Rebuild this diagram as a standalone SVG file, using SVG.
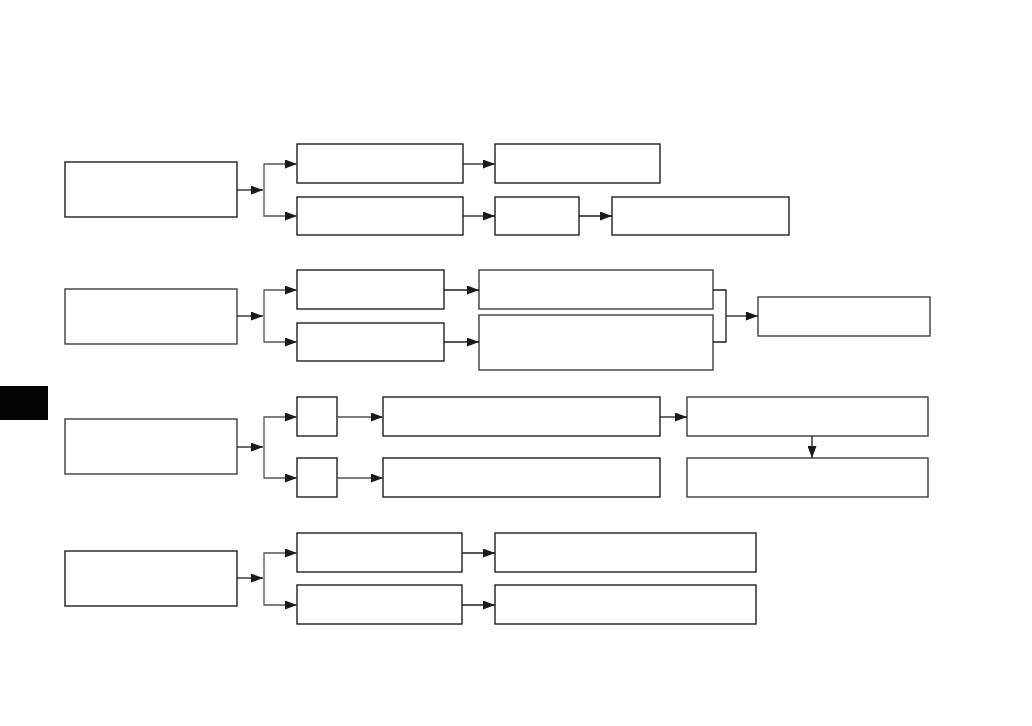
<svg xmlns="http://www.w3.org/2000/svg" width="1032" height="726" viewBox="0 0 1032 726">
<defs>
<marker id="ah" markerUnits="userSpaceOnUse" markerWidth="13" markerHeight="9" refX="12" refY="4.5" orient="auto">
<path d="M0,0 L12,4.5 L0,9 Z" fill="#1a1a1a"/>
</marker>
</defs>
<style>
.n rect{fill:#fff;stroke:#1e1e1e;stroke-width:1.4}
.g rect{stroke:#3e3e3e}
.c path{fill:none;stroke:#1e1e1e;stroke-width:1.3}
.c .br{stroke:#555}
</style>
<rect width="1032" height="726" fill="#fff"/>
<rect x="0" y="386" width="48" height="34" fill="#050505"/>

<g id="a1" class="n"><rect x="65" y="162" width="172" height="55"/></g>
<g id="b1" class="n"><rect x="297" y="144" width="166" height="39"/></g>
<g id="b2" class="n"><rect x="297" y="197" width="166" height="38"/></g>
<g id="c1" class="n"><rect x="495" y="144" width="165" height="39"/></g>
<g id="c2" class="n"><rect x="495" y="197" width="84" height="38"/></g>
<g id="d2" class="n"><rect x="612" y="197" width="177" height="38"/></g>

<g id="a2" class="n g"><rect x="65" y="289" width="172" height="55"/></g>
<g id="b3" class="n"><rect x="297" y="270" width="147" height="39"/></g>
<g id="b4" class="n"><rect x="297" y="323" width="147" height="38"/></g>
<g id="c3" class="n g"><rect x="479" y="270" width="234" height="39"/></g>
<g id="c4" class="n g"><rect x="479" y="315" width="234" height="55"/></g>
<g id="d3" class="n g"><rect x="758" y="297" width="172" height="39"/></g>

<g id="a3" class="n g"><rect x="65" y="419" width="172" height="55"/></g>
<g id="e1" class="n"><rect x="297" y="397" width="40" height="39"/></g>
<g id="e2" class="n"><rect x="297" y="458" width="40" height="39"/></g>
<g id="f1" class="n"><rect x="383" y="397" width="277" height="39"/></g>
<g id="f2" class="n"><rect x="383" y="458" width="277" height="39"/></g>
<g id="g1" class="n g"><rect x="687" y="397" width="241" height="39"/></g>
<g id="g2" class="n g"><rect x="687" y="458" width="241" height="39"/></g>

<g id="a4" class="n"><rect x="65" y="551" width="172" height="55"/></g>
<g id="b5" class="n"><rect x="297" y="533" width="165" height="39"/></g>
<g id="b6" class="n"><rect x="297" y="585" width="165" height="39"/></g>
<g id="c5" class="n"><rect x="495" y="533" width="261" height="39"/></g>
<g id="c6" class="n"><rect x="495" y="585" width="261" height="39"/></g>

<g id="connectors" class="c">
<path d="M237,190 H263" marker-end="url(#ah)"/>
<path class="br" d="M264,190 V164 H297" marker-end="url(#ah)"/>
<path class="br" d="M264,190 V216 H297" marker-end="url(#ah)"/>
<path d="M463,164 H495" marker-end="url(#ah)"/>
<path d="M463,216 H495" marker-end="url(#ah)"/>
<path d="M579,216 H612" marker-end="url(#ah)"/>

<path d="M237,316 H263" marker-end="url(#ah)"/>
<path class="br" d="M264,316 V290 H297" marker-end="url(#ah)"/>
<path class="br" d="M264,316 V342 H297" marker-end="url(#ah)"/>
<path d="M444,290 H479" marker-end="url(#ah)"/>
<path d="M444,342 H479" marker-end="url(#ah)"/>
<path d="M713,290 H726 V342 H713"/>
<path d="M726,316 H758" marker-end="url(#ah)"/>

<path d="M237,447 H263" marker-end="url(#ah)"/>
<path class="br" d="M264,447 V417 H297" marker-end="url(#ah)"/>
<path class="br" d="M264,447 V478 H297" marker-end="url(#ah)"/>
<path class="br" d="M337,417 H383" marker-end="url(#ah)"/>
<path class="br" d="M337,478 H383" marker-end="url(#ah)"/>
<path d="M660,417 H687" marker-end="url(#ah)"/>
<path d="M812,436 V458" marker-end="url(#ah)"/>

<path d="M237,578 H263" marker-end="url(#ah)"/>
<path class="br" d="M264,578 V553 H297" marker-end="url(#ah)"/>
<path class="br" d="M264,578 V605 H297" marker-end="url(#ah)"/>
<path d="M462,553 H495" marker-end="url(#ah)"/>
<path d="M462,605 H495" marker-end="url(#ah)"/>
</g>
</svg>
